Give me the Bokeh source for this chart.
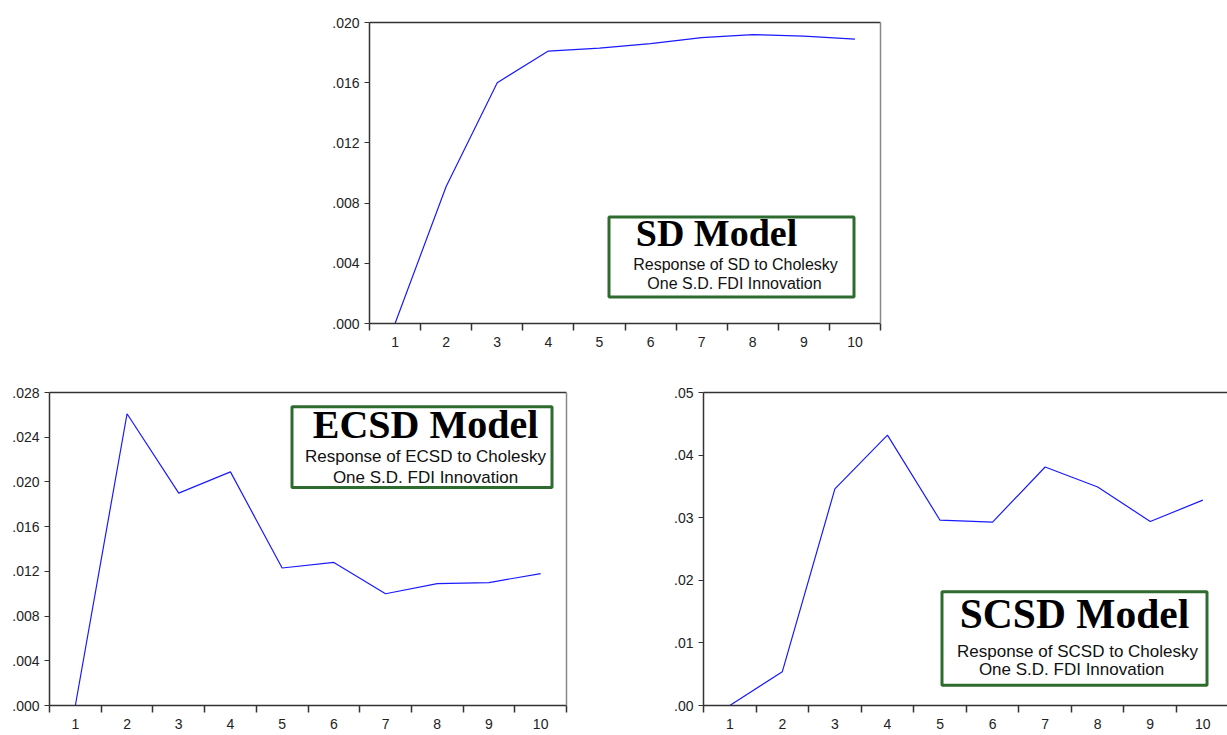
from bokeh.plotting import figure
from bokeh.models import (Range1d, FixedTicker, CustomJSTickFormatter, LinearAxis,
                          BoxAnnotation, Label, Spacer)
from bokeh.layouts import row, column
from bokeh.embed import file_html
from bokeh.resources import INLINE

# ---------------- data ----------------
periods = [1, 2, 3, 4, 5, 6, 7, 8, 9, 10]
sd_response = [0.0, 0.0091, 0.0160, 0.0181, 0.0183, 0.0186, 0.0190, 0.0192, 0.0191, 0.0189]
ecsd_response = [0.0, 0.0261, 0.0190, 0.0209, 0.0123, 0.0128, 0.0100, 0.0109, 0.0110, 0.0118]
scsd_response = [0.0, 0.0054, 0.0346, 0.0432, 0.0296, 0.0293, 0.0381, 0.0349, 0.0294, 0.0328]

sd_yticks = [0.000, 0.004, 0.008, 0.012, 0.016, 0.020]
ecsd_yticks = [0.000, 0.004, 0.008, 0.012, 0.016, 0.020, 0.024, 0.028]
scsd_yticks = [0.00, 0.01, 0.02, 0.03, 0.04, 0.05]

sd_title = "SD Model"
ecsd_title = "ECSD Model"
scsd_title = "SCSD Model"
sd_sub = ["Response of SD to Cholesky", "One S.D. FDI Innovation"]
ecsd_sub = ["Response of ECSD to Cholesky", "One S.D. FDI Innovation"]
scsd_sub = ["Response of SCSD to Cholesky", "One S.D. FDI Innovation"]

LINE = "#1a1aff"
AX = "#333333"
GREEN = "#2e6b2e"
LBL_FONT = "Liberation Sans"
TITLE_SHIFT = 15   # px correction for title baseline placement
SUB_SHIFT = 5      # px correction for subtitle baseline placement


def make_panel(width, height, mbl, mbr, mbt, mbb, x_end, y_max, yticks, decimals,
               ys, right_border=True):
    p = figure(width=width, height=height, output_backend="svg", toolbar_location=None,
               x_range=Range1d(0.5, x_end), y_range=Range1d(0, y_max),
               min_border_left=mbl, min_border_right=mbr,
               min_border_top=mbt, min_border_bottom=mbb,
               outline_line_color=None, background_fill_color="white",
               border_fill_color="white")
    p.grid.grid_line_color = None

    bounds = [t - 0.5 for t in periods] + [periods[-1] + 0.5]
    xa = p.xaxis[0]
    xa.ticker = FixedTicker(ticks=periods, minor_ticks=bounds)
    xa.major_tick_out = 0
    xa.major_tick_in = 0
    xa.major_tick_line_color = None
    xa.minor_tick_out = 7
    xa.minor_tick_in = 0
    xa.minor_tick_line_color = AX
    xa.minor_tick_line_width = 1.5
    xa.axis_line_color = AX
    xa.axis_line_width = 1.5
    xa.major_label_standoff = 6
    xa.major_label_text_font = LBL_FONT
    xa.major_label_text_font_size = "14px"
    xa.major_label_text_color = "#222222"

    ya = p.yaxis[0]
    ya.ticker = FixedTicker(ticks=yticks, minor_ticks=[])
    ya.formatter = CustomJSTickFormatter(
        code="return tick.toFixed(%d).replace(/^0/, '');" % decimals)
    ya.major_tick_out = 5
    ya.major_tick_in = 0
    ya.major_tick_line_color = AX
    ya.major_tick_line_width = 1.2
    ya.minor_tick_line_color = None
    ya.axis_line_color = AX
    ya.axis_line_width = 1.5
    ya.major_label_standoff = 5
    ya.major_label_text_font = LBL_FONT
    ya.major_label_text_font_size = "14px"
    ya.major_label_text_color = "#222222"

    top = LinearAxis(ticker=FixedTicker(ticks=[]), major_label_text_font_size="0px",
                     major_tick_line_color=None, minor_tick_line_color=None,
                     axis_line_color=AX, axis_line_width=1.5)
    p.add_layout(top, "above")
    if right_border:
        right = LinearAxis(ticker=FixedTicker(ticks=[]),
                           major_label_text_font_size="0px",
                           major_tick_line_color=None, minor_tick_line_color=None,
                           axis_line_color="#888888", axis_line_width=1.5)
        p.add_layout(right, "right")

    p.line(periods, ys, line_color=LINE, line_width=1.2)
    return p


def add_box(p, frame, ranges, box_px, title, title_size, title_pos, subs, sub_size, sub_pos):
    L, R, T, B = frame
    x0, x1, y0, y1 = ranges

    def dx(px):
        return x0 + (px - L) / (R - L) * (x1 - x0)

    def dy(py):
        return y0 + (B - py) / (B - T) * (y1 - y0)

    bl, br, bt, bb = box_px
    p.add_layout(BoxAnnotation(left=dx(bl), right=dx(br), top=dy(bt), bottom=dy(bb),
                               fill_color="white", fill_alpha=1.0,
                               line_color=GREEN, line_width=3, line_alpha=1.0))
    tx, ty = title_pos
    p.add_layout(Label(x=dx(tx), y=dy(ty - TITLE_SHIFT), text=title, text_align="center",
                       text_baseline="alphabetic", text_font="Liberation Serif",
                       text_font_style="bold", text_font_size=title_size,
                       text_color="#000000"))
    for s, (sx_, sy_) in zip(subs, sub_pos):
        p.add_layout(Label(x=dx(sx_), y=dy(sy_ - SUB_SHIFT), text=s, text_align="center",
                           text_baseline="alphabetic", text_font=LBL_FONT,
                           text_font_size=sub_size, text_color="#111111"))


# ---------------- top panel (SD) ----------------
p1 = make_panel(590, 350, 69, 10, 22, 27, 10.5, 0.020, sd_yticks, 3, sd_response)
add_box(p1, (369, 880, 22, 323), (0.5, 10.5, 0, 0.020),
        (608.5, 853.5, 216.5, 296.5), sd_title, "38px", (716, 247),
        sd_sub, "16px", [(735, 269), (734, 288)])

# ---------------- bottom-left panel (ECSD) ----------------
p2 = make_panel(640, 385, 49, 74, 42, 22, 10.5, 0.028, ecsd_yticks, 3, ecsd_response)
add_box(p2, (49, 566, 392, 713), (0.5, 10.5, 0, 0.028),
        (291.5, 551.5, 406.5, 489.5), ecsd_title, "40px", (425, 440),
        ecsd_sub, "17px", [(425, 463), (425, 484)])

# ---------------- bottom-right panel (SCSD) ----------------
x_end3 = 0.5 + 524 / 52.56
p3 = make_panel(587, 385, 63, 0, 37, 30, x_end3, 0.05, scsd_yticks, 2, scsd_response,
                right_border=False)
add_box(p3, (703, 1227, 387, 705), (0.5, x_end3, 0, 0.05),
        (941.5, 1206.5, 589.5, 684.5), scsd_title, "41.5px", (1074, 627),
        scsd_sub, "17px", [(1077, 655), (1071, 673)])

layout = column(
    row(Spacer(width=300, height=350), p1),
    row(p2, p3),
    styles={"position": "absolute", "left": "0px", "top": "0px"},
)

open("out.html", "w").write(file_html(layout, INLINE))
